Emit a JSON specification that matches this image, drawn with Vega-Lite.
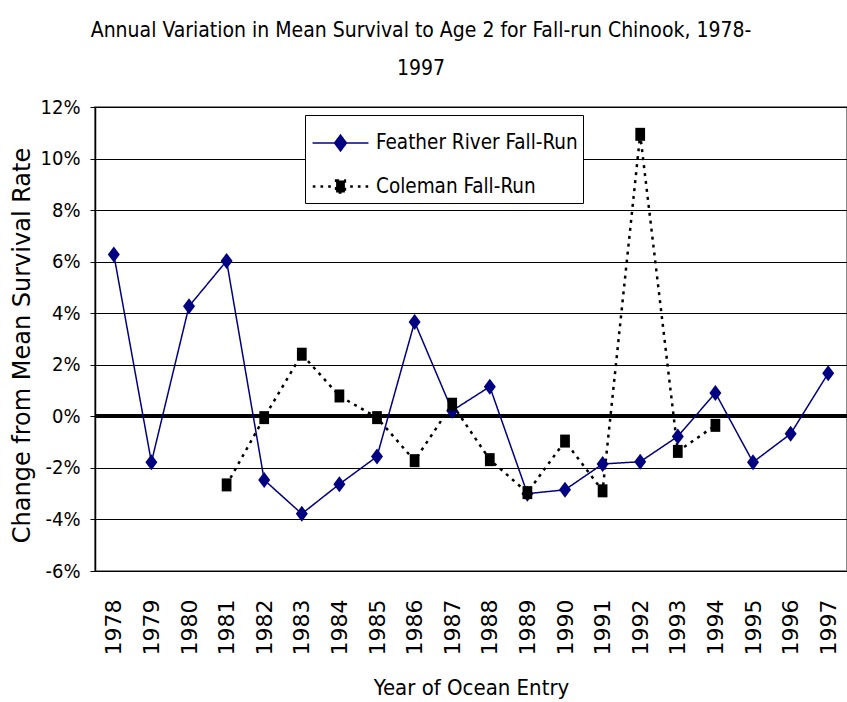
{
  "$schema": "https://vega.github.io/schema/vega-lite/v6.json",
  "width": 752,
  "height": 464,
  "autosize": {"type": "none"},
  "padding": {"left": 95, "top": 107, "right": 0, "bottom": 131},
  "background": "white",
  "title": {
    "text": ["Annual Variation in Mean Survival to Age 2  for Fall-run Chinook, 1978-", "1997"],
    "font": "DejaVu Sans Condensed",
    "fontSize": 21,
    "fontWeight": "normal",
    "color": "black",
    "anchor": "middle",
    "frame": "group",
    "dx": -50,
    "offset": 18,
    "lineHeight": 38
  },
  "config": {
    "view": {"stroke": "#888888", "strokeWidth": 2}
  },
  "data": {
    "values": [
      {"year": "1978", "series": "Feather River Fall-Run", "value": 6.28},
      {"year": "1979", "series": "Feather River Fall-Run", "value": -1.78},
      {"year": "1980", "series": "Feather River Fall-Run", "value": 4.27},
      {"year": "1981", "series": "Feather River Fall-Run", "value": 6.03},
      {"year": "1982", "series": "Feather River Fall-Run", "value": -2.47},
      {"year": "1983", "series": "Feather River Fall-Run", "value": -3.78},
      {"year": "1984", "series": "Feather River Fall-Run", "value": -2.63},
      {"year": "1985", "series": "Feather River Fall-Run", "value": -1.56},
      {"year": "1986", "series": "Feather River Fall-Run", "value": 3.66},
      {"year": "1987", "series": "Feather River Fall-Run", "value": 0.22},
      {"year": "1988", "series": "Feather River Fall-Run", "value": 1.15},
      {"year": "1989", "series": "Feather River Fall-Run", "value": -3.0},
      {"year": "1990", "series": "Feather River Fall-Run", "value": -2.85},
      {"year": "1991", "series": "Feather River Fall-Run", "value": -1.85},
      {"year": "1992", "series": "Feather River Fall-Run", "value": -1.76},
      {"year": "1993", "series": "Feather River Fall-Run", "value": -0.78},
      {"year": "1994", "series": "Feather River Fall-Run", "value": 0.91},
      {"year": "1995", "series": "Feather River Fall-Run", "value": -1.78},
      {"year": "1996", "series": "Feather River Fall-Run", "value": -0.68},
      {"year": "1997", "series": "Feather River Fall-Run", "value": 1.67},
      {"year": "1981", "series": "Coleman Fall-Run", "value": -2.66},
      {"year": "1982", "series": "Coleman Fall-Run", "value": -0.05},
      {"year": "1983", "series": "Coleman Fall-Run", "value": 2.41},
      {"year": "1984", "series": "Coleman Fall-Run", "value": 0.79},
      {"year": "1985", "series": "Coleman Fall-Run", "value": -0.05},
      {"year": "1986", "series": "Coleman Fall-Run", "value": -1.72},
      {"year": "1987", "series": "Coleman Fall-Run", "value": 0.47},
      {"year": "1988", "series": "Coleman Fall-Run", "value": -1.68},
      {"year": "1989", "series": "Coleman Fall-Run", "value": -2.96},
      {"year": "1990", "series": "Coleman Fall-Run", "value": -0.96},
      {"year": "1991", "series": "Coleman Fall-Run", "value": -2.89},
      {"year": "1992", "series": "Coleman Fall-Run", "value": 10.94},
      {"year": "1993", "series": "Coleman Fall-Run", "value": -1.36},
      {"year": "1994", "series": "Coleman Fall-Run", "value": -0.35}
    ]
  },
  "encoding": {
    "x": {
      "field": "year",
      "type": "ordinal",
      "scale": {"type": "point", "padding": 0.5},
      "axis": {
        "title": "Year of Ocean Entry",
        "titleFont": "DejaVu Sans Condensed",
        "titleFontSize": 22,
        "titleFontWeight": "normal",
        "titleColor": "black",
        "titlePadding": 23,
        "labelAngle": 270,
        "labelFont": "DejaVu Sans",
        "labelFontSize": 22,
        "labelColor": "black",
        "labelPadding": 28,
        "ticks": false,
        "domain": false,
        "grid": false
      }
    },
    "y": {
      "field": "value",
      "type": "quantitative",
      "scale": {"domain": [-6, 12], "nice": false, "zero": false},
      "axis": {
        "values": [-6, -4, -2, 0, 2, 4, 6, 8, 10, 12],
        "labelExpr": "datum.value + '%'",
        "labelFont": "DejaVu Sans Condensed",
        "labelFontSize": 20,
        "labelColor": "black",
        "labelPadding": 10,
        "tickColor": "black",
        "tickSize": 5,
        "domainColor": "black",
        "domainWidth": 1.5,
        "grid": true,
        "gridColor": "black",
        "gridWidth": 1,
        "gridOpacity": 1,
        "title": "Change from Mean Survival Rate",
        "titleFont": "DejaVu Sans",
        "titleFontSize": 24,
        "titleFontWeight": "normal",
        "titleColor": "black",
        "titleAngle": 270,
        "titleX": -73,
        "titleY": 238,
        "titleAlign": "center",
        "titleBaseline": "middle"
      }
    }
  },
  "layer": [
    {
      "mark": {"type": "rule", "color": "black", "strokeWidth": 3},
      "encoding": {"y": {"datum": 0}, "x": null}
    },
    {
      "mark": {"type": "line"},
      "encoding": {
        "color": {
          "field": "series",
          "type": "nominal",
          "scale": {"domain": ["Feather River Fall-Run", "Coleman Fall-Run"], "range": ["#000080", "#000000"]},
          "legend": {
            "title": null,
            "orient": "none",
            "legendX": 210,
            "legendY": 8,
            "fillColor": "white",
            "strokeColor": "black",
            "padding": 5,
            "symbolOffset": 7,
            "symbolSize": 1936,
            "labelOffset": 12,
            "labelFont": "DejaVu Sans Condensed",
            "labelFontSize": 20.5,
            "labelColor": "black",
            "rowPadding": 9,
            "labelLimit": 300,
            "encode": {
              "symbols": {
                "update": {
                  "shape": {"signal": "datum.value == 'Feather River Fall-Run' ? 'M-1.27,0H1.27M0,-0.36L0.27,0L0,0.36L-0.27,0Z' : 'M-1.26,0H-1.14M-0.91,0H-0.79M-0.56,0H-0.44M0.44,0H0.56M0.79,0H0.91M1.14,0H1.26M-0.2,-0.27H0.2V0.27H-0.2Z'"},
                  "fill": {"signal": "datum.value == 'Feather River Fall-Run' ? '#000080' : '#000000'"},
                  "stroke": {"signal": "datum.value == 'Feather River Fall-Run' ? '#000080' : '#000000'"},
                  "strokeDash": {"value": [1, 0]},
                  "strokeWidth": {"signal": "datum.value == 'Feather River Fall-Run' ? 1.5 : 2.5"},
                  "opacity": {"value": 1}
                }
              }
            }
          }
        },
        "strokeDash": {
          "field": "series",
          "type": "nominal",
          "scale": {"domain": ["Feather River Fall-Run", "Coleman Fall-Run"], "range": [[1, 0], [3, 5]]},
          "legend": null
        },
        "strokeWidth": {
          "field": "series",
          "type": "nominal",
          "scale": {"domain": ["Feather River Fall-Run", "Coleman Fall-Run"], "range": [1.5, 2.5]},
          "legend": null
        }
      }
    },
    {
      "transform": [{"filter": "datum.series == 'Feather River Fall-Run'"}],
      "mark": {"type": "point", "filled": true, "opacity": 1, "color": "#000080", "shape": "M0,-1L0.75,0L0,1L-0.75,0Z", "size": 256},
      "encoding": {}
    },
    {
      "transform": [{"filter": "datum.series == 'Coleman Fall-Run'"}],
      "mark": {"type": "point", "filled": true, "opacity": 1, "color": "#000000", "shape": "M-0.75,-1H0.75V1H-0.75Z", "size": 169},
      "encoding": {}
    }
  ]
}
